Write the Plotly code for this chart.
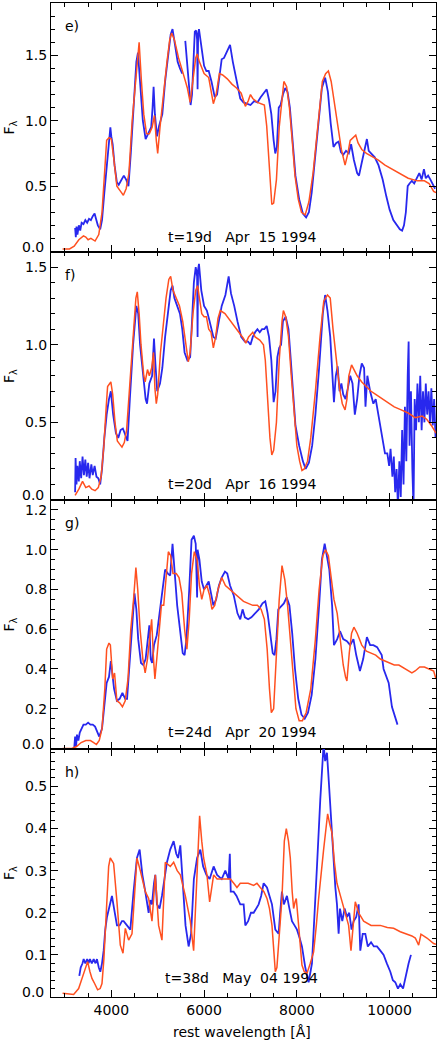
import plotly.graph_objects as go
from plotly.subplots import make_subplots

# ---------------- data (wavelength [A], flux) ----------------
panel_labels = ["e)", "f)", "g)", "h)"]
epoch_labels = ["t=19d\u00a0\u00a0\u00a0Apr\u00a0\u00a015\u00a01994",
                "t=20d\u00a0\u00a0\u00a0Apr\u00a0\u00a016\u00a01994",
                "t=24d\u00a0\u00a0\u00a0Apr\u00a0\u00a020\u00a01994",
                "t=38d\u00a0\u00a0\u00a0May\u00a0\u00a004\u00a01994"]

obs_e = [(3220,0.18),(3235,0.11),(3250,0.19),(3270,0.13),(3300,0.20),(3330,0.16),(3360,0.22),(3400,0.21),
         (3440,0.24),(3480,0.22),(3520,0.25),(3560,0.24),(3600,0.27),(3640,0.29),(3670,0.25),(3710,0.20),
         (3760,0.17),(3800,0.24),(3850,0.45),(3900,0.65),(3950,0.86),(3980,0.95),(4000,0.88),(4030,0.82),
         (4070,0.66),(4120,0.53),(4160,0.51),(4220,0.55),(4270,0.58),(4320,0.55),(4370,0.50),(4420,0.75),
         (4480,1.10),(4540,1.45),(4575,1.52),(4620,1.30),(4680,1.00),(4740,0.86),(4800,0.90),(4860,0.95),
         (4890,1.10),(4912,1.26),(4940,1.05),(4985,0.88),(5030,0.96),(5100,1.05),(5160,1.30),(5220,1.50),
         (5280,1.66),(5320,1.70),(5360,1.60),(5430,1.45),(5480,1.40),(5530,1.36),(None,None),
         (5595,1.61),(5640,1.40),(5680,1.20),(5710,1.12),(5740,1.20),(5770,1.45),(5800,1.68),(5830,1.69),
         (5850,1.62),(5860,1.24),(5872,1.66),(5890,1.70),(5920,1.62),(5960,1.52),(6000,1.42),(6050,1.38),
         (6100,1.38),(6160,1.30),(6230,1.18),(6280,1.20),(6330,1.35),(6380,1.47),(6430,1.48),(6480,1.52),
         (6560,1.58),(6620,1.45),(6700,1.30),(6780,1.17),(6850,1.14),(6920,1.13),(7000,1.12),(7080,1.15),
         (7150,1.14),(7220,1.18),(7300,1.22),(7350,1.24),(7400,1.16),(7450,1.05),(7500,0.85),(7535,0.75),
         (7570,0.80),(7610,1.10),(7650,1.12),(7700,1.20),(7750,1.25),(7800,1.22),(7850,1.10),(7920,0.80),
         (7970,0.58),(8050,0.40),(8130,0.29),(8200,0.26),(8260,0.30),(8320,0.45),(8400,0.75),(8480,1.05),
         (8540,1.25),(8610,1.33),(8670,1.22),(8730,0.98),(8790,0.80),(8850,0.83),(8900,0.84),(8950,0.76),
         (9000,0.74),(9060,0.77),(9120,0.75),(9170,0.82),(9230,0.70),(9300,0.60),(9340,0.58),(9400,0.68),
         (9460,0.78),(9510,0.86),(9550,0.77),(9600,0.75),(9680,0.72),(9760,0.66),(9850,0.55),(9930,0.42),
         (10000,0.32),(10080,0.24),(10150,0.20),(10220,0.17),(10270,0.16),(10310,0.20),(10350,0.30),
         (10390,0.50),(10430,0.52),(10480,0.54),(10530,0.52),(10580,0.56),(10640,0.60),(10690,0.55),
         (10740,0.63),(10780,0.56),(10830,0.58),(10880,0.55),(10940,0.50),(10980,0.48)]

mod_e = [(2950,0.02),(3100,0.02),(3200,0.04),(3300,0.09),(3400,0.12),(3450,0.11),(3500,0.09),(3560,0.10),
         (3650,0.08),(3730,0.13),(3800,0.30),(3850,0.55),(3900,0.85),(3950,0.87),(4000,0.86),(4050,0.72),
         (4120,0.50),(4200,0.46),(4260,0.43),(4320,0.48),(4380,0.60),(4450,1.00),(4530,1.35),(4600,1.60),
         (4650,1.30),(4700,1.05),(4760,0.90),(4820,0.90),(4880,0.95),(4930,1.04),(4970,0.85),(5000,0.75),
         (5050,0.95),(5120,1.20),(5200,1.45),(5260,1.62),(5300,1.67),(5360,1.62),(5450,1.48),(5550,1.36),
         (5640,1.25),(5700,1.14),(5760,1.30),(5820,1.48),(5850,1.51),(5900,1.45),(6000,1.36),(6100,1.33),
         (6200,1.13),(6260,1.20),(6330,1.36),(6400,1.35),(6500,1.32),(6600,1.28),(6700,1.25),(6800,1.21),
         (6890,1.11),(6950,1.15),(7000,1.20),(7050,1.17),(7150,1.14),(7300,1.12),(7350,0.96),(7400,0.70),
         (7430,0.50),(7460,0.36),(7500,0.37),(7560,0.55),(7620,0.95),(7680,1.20),(7720,1.30),(7780,1.26),
         (7840,1.10),(7900,0.85),(7960,0.58),(8030,0.40),(8100,0.30),(8180,0.28),(8260,0.38),(8350,0.60),
         (8450,0.95),(8550,1.30),(8620,1.36),(8680,1.38),(8740,1.30),(8800,1.15),(8880,0.95),(8960,0.78),
         (9040,0.66),(9100,0.75),(9150,0.85),(9230,0.88),(9270,0.89),(9320,0.83),(9400,0.78),(9500,0.75),
         (9600,0.73),(9750,0.70),(9900,0.66),(10050,0.63),(10200,0.60),(10400,0.56),(10600,0.54),
         (10750,0.54),(10850,0.52),(10950,0.46),(11000,0.45)]

obs_f = [(3220,0.05),(3230,0.27),(3250,0.10),(3270,0.22),(3300,0.12),(3320,0.25),(3350,0.14),(3380,0.28),
         (3410,0.16),(3440,0.26),(3470,0.15),(3500,0.24),(3530,0.14),(3570,0.23),(3600,0.16),(3640,0.22),
         (3680,0.15),(3720,0.14),(3760,0.10),(3800,0.20),(3850,0.40),(3900,0.55),(3950,0.65),(3990,0.70),
         (4040,0.55),(4100,0.43),(4150,0.40),(4200,0.45),(4250,0.46),(4300,0.42),(4350,0.38),(4400,0.65),
         (4470,1.00),(4540,1.25),(4580,1.20),(4620,1.00),(4680,0.80),(4740,0.65),(4770,0.62),(4820,0.75),
         (4880,0.80),(4920,1.04),(4950,0.88),(4990,0.70),(5050,0.75),(5100,0.85),(5160,1.05),(5220,1.22),
         (5280,1.35),(5320,1.38),(5360,1.30),(5420,1.25),(5480,1.20),(5530,1.10),(5580,0.95),(5640,0.90),
         (5700,0.92),(5740,1.15),(5780,1.40),(5820,1.50),(5850,1.44),(5860,1.05),(5870,1.48),(5890,1.52),
         (5940,1.35),(6000,1.25),(6060,1.22),(6120,1.15),(6200,1.05),(6250,1.04),(6300,1.12),(6380,1.25),
         (6460,1.32),(6530,1.44),(6580,1.33),(6650,1.25),(6720,1.15),(6800,1.05),(6880,1.02),(6950,1.02),
         (7000,1.00),(7050,1.05),(7100,1.08),(7150,1.10),(7200,1.08),(7250,1.10),(7300,1.10),(7350,1.12),
         (7400,1.05),(7450,0.90),(7500,0.63),(7540,0.70),(7580,0.92),(7620,0.98),(7660,1.00),(7700,1.15),
         (7760,1.18),(7820,1.10),(7870,0.90),(7920,0.70),(7970,0.48),(8050,0.35),(8130,0.25),(8190,0.20),
         (8260,0.24),(8330,0.35),(8400,0.55),(8480,0.85),(8560,1.20),(8610,1.32),(8660,1.22),(8720,1.05),
         (8770,0.75),(8800,0.63),(8840,0.80),(8880,0.86),(8920,0.70),(8960,0.75),(9000,0.68),(9050,0.65),
         (9100,0.72),(9150,0.80),(9200,0.75),(9250,0.55),(9300,0.65),(9350,0.80),(9400,0.88),(9450,0.85),
         (9480,0.60),(9520,0.80),(9580,0.70),(9650,0.62),(9700,0.65),(9780,0.52),(9850,0.40),(9900,0.30),
         (9950,0.30),(9990,0.22),(10020,0.33),(10060,0.15),(10090,0.28),(10120,0.05),(10150,0.20),
         (10180,-0.05),(10210,0.25),(10240,0.02),(10270,0.45),(10300,0.10),(10330,0.60),(10360,0.25),
         (10390,0.80),(10410,1.02),(10430,0.35),(10460,0.70),(10490,0.20),(10515,-0.05),(10540,0.65),
         (10570,0.45),(10600,0.75),(10630,0.50),(10660,0.80),(10690,0.45),(10720,0.70),(10750,0.50),
         (10780,0.75),(10810,0.55),(10840,0.70),(10870,0.50),(10900,0.72),(10930,0.48),(10960,0.65),
         (10990,0.40)]

mod_f = [(3220,0.03),(3300,0.07),(3380,0.12),(3450,0.08),(3520,0.09),(3580,0.07),(3650,0.06),(3720,0.08),
         (3780,0.15),(3840,0.35),(3890,0.60),(3920,0.73),(3990,0.76),(4030,0.68),(4080,0.50),(4130,0.38),
         (4180,0.36),(4230,0.34),(4280,0.37),(4330,0.45),(4400,0.75),(4470,1.05),(4530,1.30),(4560,1.34),
         (4600,1.20),(4640,1.00),(4700,0.80),(4730,0.76),(4780,0.84),(4820,0.80),(4870,0.85),(4910,0.95),
         (4940,0.72),(4970,0.62),(5000,0.68),(5060,0.95),(5120,1.15),(5180,1.30),(5240,1.42),(5280,1.44),
         (5330,1.35),(5400,1.30),(5470,1.25),(5540,1.15),(5600,1.00),(5660,0.89),(5700,0.95),(5760,1.20),
         (5820,1.35),(5860,1.38),(5900,1.30),(5950,1.20),(6000,1.18),(6050,1.18),(6100,1.10),(6150,1.08),
         (6200,0.98),(6250,1.05),(6300,1.17),(6350,1.22),(6450,1.20),(6550,1.16),(6650,1.12),(6750,1.08),
         (6850,1.04),(6900,1.01),(6960,1.05),(7050,1.08),(7100,1.05),(7200,1.03),(7280,1.00),(7320,0.90),
         (7370,0.65),(7420,0.40),(7460,0.29),(7500,0.32),(7560,0.50),(7620,0.90),(7680,1.15),(7710,1.22),
         (7760,1.18),(7820,1.05),(7880,0.80),(7940,0.55),(8000,0.35),(8060,0.25),(8110,0.19),(8160,0.20),
         (8230,0.25),(8300,0.40),(8400,0.70),(8500,1.05),(8580,1.28),(8660,1.32),(8720,1.30),(8780,1.10),
         (8850,0.90),(8920,0.72),(8980,0.62),(9040,0.58),(9080,0.65),(9120,0.80),(9180,0.87),(9230,0.84),
         (9300,0.80),(9400,0.76),(9500,0.73),(9600,0.70),(9700,0.68),(9800,0.66),(9950,0.63),(10100,0.60),
         (10250,0.58),(10400,0.56),(10550,0.53),(10700,0.54),(10800,0.52),(10900,0.48),(11000,0.43)]

obs_g = [(3200,0.00),(3220,0.06),(3240,0.01),(3260,0.07),(3290,0.04),(3320,0.08),(3360,0.10),(3400,0.12),
         (3450,0.12),(3500,0.13),(3550,0.12),(3600,0.12),(3650,0.11),(3700,0.08),(3740,0.06),(3800,0.10),
         (3850,0.20),(3900,0.33),(3950,0.36),(3990,0.44),(4020,0.38),(4060,0.30),(4120,0.24),(4180,0.25),
         (4240,0.28),(4300,0.25),(4340,0.25),(4400,0.45),(4460,0.70),(4500,0.78),(4540,0.70),(4580,0.55),
         (4640,0.43),(4690,0.42),(4740,0.45),(4790,0.55),(4820,0.62),(4850,0.45),(4880,0.43),(4920,0.52),
         (4980,0.57),(5040,0.68),(5100,0.80),(5160,0.90),(5220,0.88),(5270,0.87),(5320,1.03),(5360,0.90),
         (5420,0.72),(5480,0.60),(5540,0.48),(5580,0.47),(5620,0.55),(5680,0.80),(5730,1.05),(5780,1.07),
         (5820,1.03),(5850,0.76),(5860,1.00),(5900,0.95),(5950,0.84),(6000,0.80),(6050,0.82),(6100,0.84),
         (6150,0.78),(6200,0.72),(6260,0.75),(6320,0.82),(6380,0.86),(6450,0.89),(6500,0.88),(6560,0.82),
         (6640,0.77),(6720,0.68),(6780,0.65),(6830,0.70),(6880,0.66),(6950,0.65),(7020,0.66),(7100,0.68),
         (7180,0.70),(7260,0.73),(7320,0.74),(7370,0.68),(7420,0.58),(7480,0.48),(7520,0.47),(7560,0.55),
         (7600,0.70),(7680,0.72),(7720,0.73),(7780,0.76),(7840,0.72),(7900,0.58),(7960,0.40),(8030,0.25),
         (8100,0.17),(8170,0.15),(8240,0.18),(8320,0.27),(8400,0.45),(8480,0.72),(8540,0.95),(8600,1.03),
         (8640,0.98),(8700,0.90),(8760,0.72),(8800,0.52),(8870,0.55),(8930,0.59),(9000,0.55),(9080,0.54),
         (9150,0.52),(9220,0.55),(9280,0.47),(9360,0.39),(9430,0.45),(9510,0.56),(9580,0.52),(9650,0.52),
         (9730,0.51),(9830,0.47),(9870,0.40),(9980,0.33),(10050,0.21),(10120,0.15),(10170,0.12)]

mod_g = [(2950,0.00),(3150,0.00),(3250,0.01),(3350,0.03),(3450,0.04),(3550,0.04),(3620,0.03),(3680,0.02),
         (3740,0.04),(3800,0.10),(3860,0.30),(3900,0.50),(3950,0.53),(3980,0.52),(4030,0.35),(4070,0.38),
         (4120,0.24),(4180,0.23),(4240,0.21),(4300,0.24),(4360,0.35),(4420,0.60),(4480,0.75),(4530,0.91),
         (4570,0.80),(4620,0.60),(4680,0.45),(4730,0.38),(4780,0.45),(4830,0.58),(4870,0.65),(4910,0.45),
         (4940,0.35),(4980,0.45),(5030,0.60),(5080,0.72),(5130,0.72),(5180,0.85),(5230,0.99),(5280,0.97),
         (5330,0.88),(5400,0.88),(5460,0.86),(5520,0.78),(5580,0.60),(5630,0.50),(5680,0.65),(5730,0.88),
         (5790,0.99),(5850,0.95),(5900,0.82),(5950,0.75),(6000,0.80),(6060,0.82),(6120,0.77),(6170,0.70),
         (6230,0.72),(6300,0.80),(6380,0.86),(6460,0.82),(6560,0.80),(6660,0.78),(6760,0.76),(6850,0.74),
         (6950,0.73),(7050,0.72),(7150,0.72),(7230,0.70),(7300,0.65),(7360,0.50),(7410,0.30),(7450,0.18),
         (7500,0.20),(7560,0.45),(7620,0.75),(7680,0.92),(7740,0.85),(7800,0.72),(7860,0.55),(7920,0.35),
         (7980,0.20),(8050,0.14),(8120,0.14),(8200,0.18),(8300,0.30),(8400,0.55),(8480,0.80),(8560,0.97),
         (8620,1.00),(8680,0.97),(8740,0.85),(8800,0.75),(8870,0.68),(8960,0.50),(9000,0.42),(9050,0.36),
         (9080,0.34),(9130,0.48),(9180,0.58),(9230,0.61),(9300,0.58),(9400,0.52),(9500,0.49),(9600,0.48),
         (9700,0.47),(9800,0.45),(9900,0.44),(10000,0.43),(10100,0.42),(10200,0.42),(10350,0.40),
         (10480,0.38),(10550,0.39),(10650,0.41),(10750,0.41),(10850,0.40),(10950,0.39),(11000,0.35)]

obs_h = [(3310,0.05),(3340,0.07),(3380,0.08),(3404,0.09),(3440,0.08),(3480,0.09),(3511,0.08),(3540,0.09),
         (3580,0.08),(3620,0.09),(3660,0.08),(3691,0.09),(3730,0.07),(3763,0.06),(3800,0.08),(3835,0.11),
         (3870,0.16),(3907,0.19),(3950,0.21),(4014,0.24),(4060,0.21),(4122,0.17),(4180,0.17),(4230,0.18),
         (4266,0.18),(4330,0.17),(4410,0.16),(4480,0.25),(4553,0.33),(4611,0.35),(4670,0.29),(4733,0.25),
         (4805,0.20),(4840,0.23),(4877,0.22),(4920,0.27),(4949,0.29),(4984,0.22),(5040,0.21),(5092,0.24),
         (5150,0.29),(5200,0.32),(5270,0.35),(5344,0.37),(5400,0.34),(5440,0.33),(5488,0.36),(5540,0.27),
         (5600,0.17),(5667,0.12),(5720,0.15),(5780,0.28),(5850,0.33),(5919,0.35),(5980,0.31),(6050,0.29),
         (6120,0.28),(6206,0.31),(6280,0.29),(6380,0.28),(6458,0.30),(6530,0.28),(6555,0.34),(6575,0.25),
         (6637,0.25),(6700,0.24),(6780,0.22),(6853,0.22),(6889,0.17),(6950,0.18),(7010,0.20),(7069,0.20),
         (7120,0.21),(7176,0.22),(7230,0.24),(7284,0.27),(7356,0.26),(7410,0.24),(7464,0.22),(7536,0.16),
         (7607,0.15),(7640,0.20),(7679,0.25),(7720,0.22),(7787,0.24),(7840,0.21),(7895,0.18),(7950,0.17),
         (8003,0.16),(8060,0.14),(8110,0.12),(8182,0.07),(8254,0.035),(8326,0.08),(8380,0.18),(8434,0.31),
         (8506,0.47),(8550,0.55),(8577,0.60),(8610,0.56),(8649,0.58),(8690,0.51),(8740,0.42),(8793,0.31),
         (8830,0.26),(8865,0.22),(8901,0.15),(8930,0.21),(8980,0.18),(9030,0.21),(9080,0.19),(9130,0.20),
         (9180,0.16),(9224,0.18),(9280,0.19),(9332,0.22),(9368,0.11),(9420,0.15),(9476,0.15),(9530,0.12),
         (9600,0.13),(9660,0.12),(9727,0.12),(9800,0.11),(9871,0.10),(9940,0.08),(10015,0.06),(10070,0.04),
         (10122,0.035),(10180,0.02),(10230,0.03),(10290,0.02),(10338,0.045),(10380,0.06),(10410,0.08),
         (10460,0.10)]

mod_h = [(2950,0.009),(3100,0.008),(3188,0.006),(3296,0.02),(3404,0.056),(3490,0.084),(3540,0.06),
         (3583,0.044),(3640,0.032),(3705,0.017),(3760,0.02),(3799,0.032),(3840,0.09),(3871,0.155),
         (3943,0.31),(3978,0.33),(4050,0.317),(4122,0.226),(4194,0.123),(4252,0.104),(4302,0.163),
         (4374,0.135),(4446,0.15),(4500,0.24),(4553,0.33),(4625,0.30),(4733,0.25),(4805,0.234),(4877,0.18),
         (4949,0.29),(5020,0.17),(5092,0.135),(5164,0.32),(5272,0.31),(5344,0.32),(5420,0.30),(5488,0.29),
         (5596,0.24),(5703,0.18),(5775,0.11),(5847,0.31),(5904,0.43),(5950,0.37),(5990,0.33),(6062,0.29),
         (6120,0.226),(6206,0.29),(6280,0.28),(6350,0.28),(6450,0.28),(6566,0.28),(6640,0.27),(6709,0.26),
         (6780,0.27),(6853,0.27),(6950,0.27),(7069,0.265),(7140,0.27),(7212,0.26),(7290,0.25),(7356,0.234),
         (7410,0.21),(7464,0.17),(7500,0.10),(7536,0.06),(7570,0.07),(7620,0.14),(7679,0.234),(7730,0.37),
         (7773,0.40),(7820,0.37),(7859,0.33),(7900,0.25),(7931,0.21),(7960,0.225),(7988,0.234),(8038,0.17),
         (8110,0.076),(8160,0.06),(8218,0.056),(8290,0.08),(8362,0.107),(8420,0.17),(8470,0.234),(8577,0.35),
         (8664,0.435),(8710,0.41),(8757,0.39),(8810,0.32),(8865,0.27),(8940,0.24),(9009,0.21),(9070,0.19),
         (9116,0.17),(9167,0.11),(9215,0.17),(9260,0.226),(9332,0.20),(9440,0.18),(9600,0.17),(9799,0.17),
         (9950,0.165),(10087,0.163),(10230,0.155),(10374,0.15),(10480,0.145),(10554,0.14),(10626,0.123),
         (10676,0.149),(10805,0.14),(10949,0.127),(11000,0.125)]

observed = [obs_e, obs_f, obs_g, obs_h]
models = [mod_e, mod_f, mod_g, mod_h]

y_ranges = [[0, 1.9], [0, 1.6], [0, 1.25], [0, 0.59]]
y_ticks = [[0.5, 1.0, 1.5], [0.5, 1.0, 1.5], [0.2, 0.4, 0.6, 0.8, 1.0, 1.2],
           [0.1, 0.2, 0.3, 0.4, 0.5]]
y_minor = [0.1, 0.1, 0.05, 0.02]
label_y = [0.06, 0.065, 0.065, 0.077]
x_ticks = [4000, 6000, 8000, 10000]

BLUE = "#2828ee"
ORANGE = "#ff5020"
FONT = "DejaVu Sans, Verdana, sans-serif"
FS = 14

fig = make_subplots(rows=4, cols=1, shared_xaxes=True, vertical_spacing=0)

for i in range(4):
    r = i + 1
    ox = [p[0] for p in observed[i]]
    oy = [p[1] for p in observed[i]]
    mx = [p[0] for p in models[i]]
    my = [p[1] for p in models[i]]
    fig.add_trace(go.Scatter(x=ox, y=oy, mode="lines", line=dict(color=BLUE, width=1.8),
                             connectgaps=False, showlegend=False, hoverinfo="skip"), row=r, col=1)
    fig.add_trace(go.Scatter(x=mx, y=my, mode="lines", line=dict(color=ORANGE, width=1.5),
                             showlegend=False, hoverinfo="skip"), row=r, col=1)
    fig.update_yaxes(row=r, col=1, range=y_ranges[i], tickvals=y_ticks[i],
                     ticktext=[f"{v:.1f}" for v in y_ticks[i]],
                     ticks="inside", ticklen=7, tickwidth=1, tickcolor="black",
                     minor=dict(dtick=y_minor[i], tick0=0, ticks="inside", ticklen=4, tickcolor="black",
                                showgrid=False),
                     showline=True, linecolor="black", linewidth=1, mirror="ticks",
                     showgrid=False, zeroline=False, automargin=False,
                     tickfont=dict(family=FONT, size=FS, color="black"))
    fig.update_xaxes(row=r, col=1, range=[2700, 11000], tickvals=x_ticks,
                     ticktext=[str(v) for v in x_ticks],
                     ticks="inside", ticklen=7, tickwidth=1, tickcolor="black",
                     minor=dict(dtick=500, tick0=0, ticks="inside", ticklen=4, tickcolor="black",
                                showgrid=False),
                     showline=True, linecolor="black", linewidth=1, mirror="ticks",
                     showgrid=False, zeroline=False, automargin=False,
                     tickfont=dict(family=FONT, size=FS, color="black"))
    xd = "x domain" if i == 0 else f"x{r} domain"
    yd = "y domain" if i == 0 else f"y{r} domain"
    yy = "y" if i == 0 else f"y{r}"
    # the lowest tick label, lifted slightly as in the original
    fig.add_annotation(xref=xd, yref=yy, x=-0.012, y=0, yshift=5, text="0.0", showarrow=False,
                       xanchor="right", yanchor="middle", font=dict(family=FONT, size=FS, color="black"))
    fig.add_annotation(xref=xd, yref=yd, x=0.032, y=0.907, text=panel_labels[i], showarrow=False,
                       xanchor="left", yanchor="middle", font=dict(family=FONT, size=FS, color="black"))
    fig.add_annotation(xref=xd, yref=yd, x=0.496, y=label_y[i], text=epoch_labels[i], showarrow=False,
                       xanchor="center", yanchor="middle", font=dict(family=FONT, size=FS, color="black"))
    fig.add_annotation(xref=xd, yref=yd, x=-0.106, y=0.5, text="F<sub>λ</sub>", showarrow=False,
                       textangle=-90, xanchor="center", yanchor="middle",
                       font=dict(family=FONT, size=FS, color="black"))

fig.add_annotation(xref="paper", yref="paper", x=0.496, y=-0.0352, text="rest wavelength [Å]",
                   showarrow=False, xanchor="center", yanchor="middle",
                   font=dict(family=FONT, size=FS, color="black"))

fig.update_layout(width=442, height=1040, margin=dict(l=51, r=6, t=3, b=43),
                  plot_bgcolor="white", paper_bgcolor="white", hovermode=False,
                  font=dict(family=FONT, size=FS, color="black"))

fig.write_html("out.html", config={"displayModeBar": False},
               post_script="document.body.style.margin='0';document.body.style.padding='0';"
                           "document.documentElement.style.overflow='hidden';")
